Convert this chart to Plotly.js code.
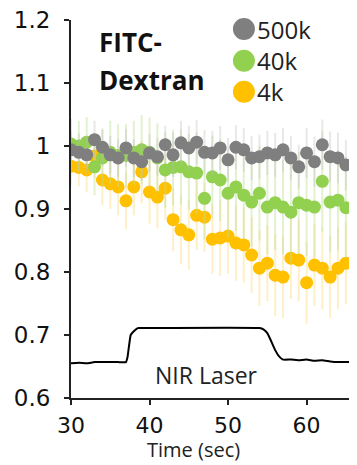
<!DOCTYPE html>
<html>
<head>
<meta charset="utf-8">
<script src="https://cdn.plot.ly/plotly-3.0.1.min.js"></script>
<style>html,body{margin:0;padding:0;background:#fff;}#chart{width:357px;height:465px;}</style>
</head>
<body>
<div id="chart"></div>
<script>
var time = [30,31,32,33,34,35,36,37,38,39,40,41,42,43,44,45,46,47,48,49,50,51,52,53,54,55,56,57,58,59,60,61,62,63,64,65];

var gray500k = [0.994,0.990,0.986,1.010,0.998,0.986,0.981,0.997,0.981,0.975,0.989,0.983,1.002,0.986,1.005,0.997,1.006,0.990,0.989,0.997,0.978,0.998,0.994,0.981,0.983,0.989,0.986,0.994,0.981,0.967,0.989,0.975,1.002,0.983,0.981,0.970];
var gray500kErr = [0.03,0.03,0.03,0.03,0.03,0.03,0.03,0.03,0.03,0.03,0.03,0.03,0.03,0.035,0.035,0.035,0.035,0.035,0.035,0.035,0.035,0.035,0.035,0.035,0.035,0.035,0.035,0.035,0.035,0.035,0.04,0.04,0.04,0.04,0.04,0.04];

var green40k = [1.003,1.000,1.006,0.967,0.981,0.990,0.985,0.985,0.990,0.994,0.990,0.981,0.962,0.966,0.967,0.959,0.957,0.917,0.951,0.946,0.925,0.935,0.922,0.911,0.925,0.903,0.910,0.903,0.895,0.910,0.906,0.903,0.944,0.911,0.914,0.902];
var green40kErr = [0.04,0.04,0.04,0.045,0.045,0.05,0.05,0.05,0.05,0.055,0.055,0.055,0.06,0.06,0.06,0.06,0.065,0.065,0.065,0.065,0.07,0.07,0.07,0.07,0.075,0.075,0.075,0.075,0.08,0.08,0.08,0.08,0.08,0.08,0.08,0.08];

var orange4k = [0.968,0.966,0.962,0.984,0.946,0.940,0.935,0.913,0.935,0.959,0.927,0.919,0.933,0.883,0.867,0.859,0.890,0.887,0.852,0.854,0.857,0.846,0.843,0.827,0.806,0.814,0.795,0.792,0.822,0.819,0.783,0.811,0.806,0.792,0.806,0.814];
var orange4kErr = [0.03,0.03,0.035,0.035,0.04,0.04,0.045,0.045,0.045,0.05,0.05,0.05,0.05,0.05,0.055,0.055,0.055,0.055,0.055,0.06,0.06,0.06,0.06,0.06,0.06,0.06,0.065,0.065,0.065,0.065,0.065,0.065,0.065,0.065,0.065,0.065];

var laserTime = [30,31,32,33,34,35,36,37,37.2,37.6,38,38.5,39,54,54.5,55,55.5,56,56.5,57,58,59,60,61,62,63,64,65.4];
var laserLevel = [0.655,0.656,0.655,0.657,0.657,0.657,0.657,0.657,0.665,0.700,0.706,0.711,0.711,0.711,0.709,0.703,0.690,0.676,0.666,0.661,0.661,0.660,0.661,0.659,0.660,0.658,0.657,0.657];

var seriesNames = ['500k','40k','4k'];
var seriesColors = ['#7f7f7f','#92d050','#ffc000'];
var errColors = ['rgba(190,190,190,0.35)','rgba(190,225,150,0.45)','rgba(255,215,110,0.4)'];

function pointTrace(y, err, i) {
  return {
    x: time, y: y, type: 'scatter', mode: 'markers', name: seriesNames[i],
    marker: {size: 13, color: seriesColors[i]},
    error_y: {type: 'data', array: err, visible: true, color: errColors[i], thickness: 2, width: 0},
    showlegend: false, hoverinfo: 'skip'
  };
}

var traces = [
  pointTrace(orange4k, orange4kErr, 2),
  pointTrace(green40k, green40kErr, 1),
  pointTrace(gray500k, gray500kErr, 0),
  {x: laserTime, y: laserLevel, type: 'scatter', mode: 'lines', line: {color: '#000', width: 2, shape: 'spline', smoothing: 0.3}, showlegend: false, hoverinfo: 'skip'}
];

var legendY = [0.976, 0.892, 0.810];
var shapes = [];
var annotations = [];
for (var i = 0; i < 3; i++) {
  shapes.push({type: 'circle', xref: 'paper', yref: 'paper', xsizemode: 'pixel', ysizemode: 'pixel',
    xanchor: 0.622, yanchor: legendY[i], x0: -11, x1: 11, y0: -11, y1: 11,
    fillcolor: seriesColors[i], line: {width: 0}});
  annotations.push({xref: 'paper', yref: 'paper', x: 0.663, y: legendY[i], xanchor: 'left', yanchor: 'middle',
    text: seriesNames[i], showarrow: false, font: {family: 'Open Sans, sans-serif', size: 24, color: '#222'}});
}
var labelFont = 'Open Sans, sans-serif';
annotations.push({xref: 'paper', yref: 'paper', x: 0.092, y: 0.942, xanchor: 'left', yanchor: 'middle', text: '<b>FITC-</b>', showarrow: false, font: {family: labelFont, size: 26, color: '#111'}});
annotations.push({xref: 'paper', yref: 'paper', x: 0.092, y: 0.840, xanchor: 'left', yanchor: 'middle', text: '<b>Dextran</b>', showarrow: false, font: {family: labelFont, size: 26, color: '#111'}});
annotations.push({xref: 'paper', yref: 'paper', x: 0.486, y: 0.061, xanchor: 'center', yanchor: 'middle', text: 'NIR Laser', showarrow: false, font: {family: labelFont, size: 23, color: '#222'}});
annotations.push({xref: 'paper', yref: 'paper', x: 0.44, y: -0.135, xanchor: 'center', yanchor: 'middle', text: 'Time (sec)', showarrow: false, font: {family: labelFont, size: 20, color: '#222'}});

var tickFontX = {family: 'DejaVu Sans, sans-serif', size: 22, color: '#111'};
var tickFontY = {family: 'DejaVu Sans, sans-serif', size: 23, color: '#111'};
var layout = {
  width: 357, height: 465,
  margin: {l: 71, r: 8, t: 20, b: 67},
  paper_bgcolor: '#fff', plot_bgcolor: '#fff',
  showlegend: false,
  xaxis: {range: [30, 65.4], tickvals: [30,40,50,60], ticktext: ['30','40','50','60'], showgrid: false, zeroline: false,
    showline: true, linecolor: '#222', linewidth: 2, ticks: 'outside', ticklen: 5, tickwidth: 2, tickcolor: '#222',
    ticklabelstandoff: 2, tickfont: tickFontX},
  yaxis: {range: [0.6, 1.2], tickvals: [0.6,0.7,0.8,0.9,1,1.1,1.2], ticktext: ['0.6','0.7','0.8','0.9','1','1.1','1.2'], showgrid: false, zeroline: false,
    showline: true, linecolor: '#222', linewidth: 2, ticks: 'outside', ticklen: 5, tickwidth: 2, tickcolor: '#222',
    ticklabelstandoff: 9, tickfont: tickFontY},
  shapes: shapes,
  annotations: annotations
};

Plotly.newPlot('chart', traces, layout, {displayModeBar: false, staticPlot: true});
</script>
</body>
</html>
